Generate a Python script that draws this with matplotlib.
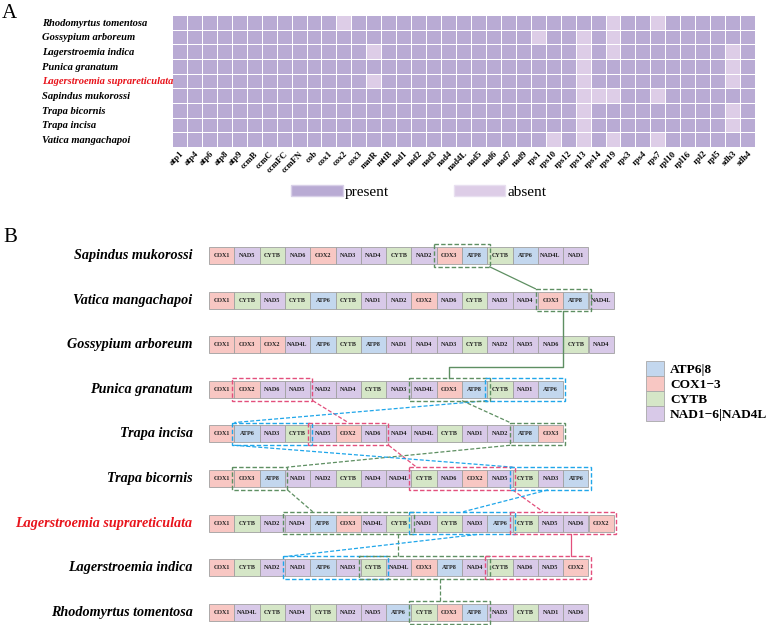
import matplotlib
matplotlib.use("Agg")
import matplotlib.pyplot as plt
import numpy as np
from matplotlib.colors import ListedColormap
from matplotlib.patches import Rectangle, Patch

plt.rcParams["font.family"] = ["Liberation Serif", "DejaVu Serif"]

PRESENT = "#B9ABD4"
ABSENT = "#DDCDE7"
HIGHLIGHT = "#E8141C"
HIGHLIGHT_NAME = "Lagerstroemia suprareticulata"

# ---- panel A: gene presence / absence ----
species_a = [
    "Rhodomyrtus tomentosa", "Gossypium arboreum", "Lagerstroemia indica",
    "Punica granatum", "Lagerstroemia suprareticulata", "Sapindus mukorossi",
    "Trapa bicornis", "Trapa incisa", "Vatica mangachapoi",
]
genes = [
    "atp1", "atp4", "atp6", "atp8", "atp9", "ccmB", "ccmC", "ccmFC", "ccmFN",
    "cob", "cox1", "cox2", "cox3", "matR", "mttB", "nad1", "nad2", "nad3",
    "nad4", "nad4L", "nad5", "nad6", "nad7", "nad9", "rps1", "rps10", "rps12",
    "rps13", "rps14", "rps19", "rps3", "rps4", "rps7", "rpl10", "rpl16",
    "rpl2", "rpl5", "sdh3", "sdh4",
]
absent_genes = [
    ["cox2", "rps19", "rps7"],
    ["rps1", "rps13", "rps19"],
    ["matR", "rps13", "rps19", "sdh3"],
    ["rps13", "sdh3"],
    ["matR", "rps13", "sdh3"],
    ["rps13", "rps14", "rps19", "rps7"],
    ["rps13", "sdh3"],
    ["rps13", "sdh3"],
    ["rps10", "rps13", "rps19", "rps7"],
]

# ---- panel B: gene order ----
species_b = [
    "Sapindus mukorossi", "Vatica mangachapoi", "Gossypium arboreum",
    "Punica granatum", "Trapa incisa", "Trapa bicornis",
    "Lagerstroemia suprareticulata", "Lagerstroemia indica",
    "Rhodomyrtus tomentosa",
]
gene_orders = [
    ["COX1", "NAD5", "CYTB", "NAD6", "COX2", "NAD3", "NAD4", "CYTB", "NAD2",
     "COX3", "ATP8", "CYTB", "ATP6", "NAD4L", "NAD1"],
    ["COX1", "CYTB", "NAD5", "CYTB", "ATP6", "CYTB", "NAD1", "NAD2", "COX2",
     "NAD6", "CYTB", "NAD3", "NAD4", "COX3", "ATP8", "NAD4L"],
    ["COX1", "COX3", "COX2", "NAD4L", "ATP6", "CYTB", "ATP8", "NAD1", "NAD4",
     "NAD3", "CYTB", "NAD2", "NAD5", "NAD6", "CYTB", "NAD4"],
    ["COX1", "COX2", "NAD6", "NAD5", "NAD2", "NAD4", "CYTB", "NAD3", "NAD4L",
     "COX3", "ATP8", "CYTB", "NAD1", "ATP6"],
    ["COX1", "ATP6", "NAD3", "CYTB", "NAD5", "COX2", "NAD6", "NAD4", "NAD4L",
     "CYTB", "NAD1", "NAD2", "ATP8", "COX3"],
    ["COX1", "COX3", "ATP8", "NAD1", "NAD2", "CYTB", "NAD4", "NAD4L", "CYTB",
     "NAD6", "COX2", "NAD5", "CYTB", "NAD3", "ATP6"],
    ["COX1", "CYTB", "NAD2", "NAD4", "ATP8", "COX3", "NAD4L", "CYTB", "NAD1",
     "CYTB", "NAD3", "ATP6", "CYTB", "NAD5", "NAD6", "COX2"],
    ["COX1", "CYTB", "NAD2", "NAD1", "ATP6", "NAD3", "CYTB", "NAD4L", "COX3",
     "ATP8", "NAD4", "CYTB", "NAD6", "NAD5", "COX2"],
    ["COX1", "NAD4L", "CYTB", "NAD4", "CYTB", "NAD2", "NAD5", "ATP6", "CYTB",
     "COX3", "ATP8", "NAD3", "CYTB", "NAD1", "NAD6"],
]
class_labels = ["ATP6|8", "COX1\u22123", "CYTB", "NAD1\u22126|NAD4L"]
class_colors = ["#C3D7EE", "#F8C7C3", "#D5E6C7", "#D8C9E8"]

# syntenic blocks: (row, first gene index, last gene index, colour key)
blocks = [
    (0, 9, 10, "g"), (1, 13, 14, "g"), (3, 8, 10, "g"), (3, 11, 13, "b"),
    (3, 1, 3, "p"), (4, 1, 3, "b"), (4, 4, 6, "p"), (4, 12, 13, "g"),
    (5, 1, 2, "g"), (5, 8, 11, "p"), (5, 12, 14, "b"), (6, 3, 7, "g"),
    (6, 8, 11, "b"), (6, 12, 15, "p"), (7, 3, 6, "b"), (7, 6, 10, "g"),
    (7, 11, 14, "p"), (8, 8, 10, "g"),
]
# links between blocks: (block from, gene pos from, block to, gene pos to, solid)
links = [
    (0, 11.1, 1, 12.9, True), (2, 10.0, 7, 11.9, False),
    (7, 11.9, 8, 3.1, False), (8, 3.1, 11, 4.1, False),
    (11, 7.47, 15, 7.47, False), (15, 9.13, 17, 9.13, False),
    (4, 4.1, 6, 5.5, False), (6, 7.1, 9, 8.2, False),
    (9, 12.0, 13, 13.2, False), (13, 14.3, 16, 14.3, True),
    (3, 11.0, 5, 1.0, False), (5, 1.0, 10, 12.0, False),
    (10, 13.4, 12, 10.05, False), (12, 10.6, 14, 3.1, False),
]
# elbow link from Vatica COX3-ATP8 to Punica NAD4L-ATP8 block
elbow = (1, 2)
link_colors = {"g": "#5E8F62", "b": "#1FA6EA", "p": "#E34F7C"}


def gene_class(name):
    for i, key in enumerate(("ATP", "COX", "CYTB", "NAD")):
        if name.startswith(key):
            return i
    return 3


fig = plt.figure(figsize=(7.71, 6.25), dpi=100)

# ---------------- panel A ----------------
mat = np.ones((len(species_a), len(genes)))
for i, gl in enumerate(absent_genes):
    for g in gl:
        mat[i, genes.index(g)] = 0

ax_a = fig.add_axes([172 / 771, 1 - 147 / 625, 583 / 771, 132 / 625])
ax_a.pcolormesh(mat, cmap=ListedColormap([ABSENT, PRESENT]), vmin=0, vmax=1,
                edgecolors="white", linewidth=0.7)
ax_a.set_xlim(0, len(genes))
ax_a.set_ylim(len(species_a), 0)
ax_a.set_xticks(np.arange(len(genes)) + 0.5)
ax_a.set_xticklabels(genes, rotation=45, ha="right", rotation_mode="anchor",
                     fontsize=6.3, fontweight="bold")
ax_a.set_yticks(np.arange(len(species_a)) + 0.5)
ax_a.set_yticklabels(species_a, ha="left", fontsize=7.6, fontweight="bold",
                     fontstyle="italic")
ax_a.tick_params(axis="y", length=0, pad=93.6)
ax_a.tick_params(axis="x", length=0, pad=2)
for lab in ax_a.get_yticklabels():
    if lab.get_text() == HIGHLIGHT_NAME:
        lab.set_color(HIGHLIGHT)
for s in ax_a.spines.values():
    s.set_visible(False)

fig.legend(handles=[Patch(facecolor=PRESENT, edgecolor="#D8D0E8"),
                    Patch(facecolor=ABSENT, edgecolor="#E8E0F0")],
           labels=["present", "absent"], ncol=2, loc="upper left",
           bbox_to_anchor=(291 / 771, 1 - 185 / 625), frameon=False,
           fontsize=11, handlelength=3.4, handleheight=0.75,
           handletextpad=0.15, columnspacing=4.2, borderpad=0,
           borderaxespad=0)

fig.text(0.002, 1 - 4 / 625, "A", fontsize=15, va="top", ha="left")
fig.text(0.004, 1 - 228 / 625, "B", fontsize=15, va="top", ha="left")

# ---------------- panel B ----------------
slot_px, row_px, x0_px, y0_px = 25.3, 44.6, 209, 255.5
ax_b = fig.add_axes([0, 0, 1, 400 / 625])
ax_b.set_xlim(-x0_px / slot_px, (771 - x0_px) / slot_px)
ax_b.set_ylim((625 - y0_px) / row_px, (225 - y0_px) / row_px)
ax_b.axis("off")

bh = 0.19
for i, (name, order) in enumerate(zip(species_b, gene_orders)):
    ax_b.text(-0.65, i, name, ha="right", va="center", fontsize=10.2,
              fontweight="bold", fontstyle="italic",
              color=HIGHLIGHT if name == HIGHLIGHT_NAME else "black")
    for k, g in enumerate(order):
        ax_b.add_patch(Rectangle((k, i - bh), 1, 2 * bh,
                                 facecolor=class_colors[gene_class(g)],
                                 edgecolor="#A0A0A0", linewidth=0.6))
        ax_b.text(k + 0.5, i, g, ha="center", va="center", fontsize=4.4,
                  fontweight="bold", color="#222222")

mh, mw = bh + 0.065, 0.09
dash = (0, (3.2, 1.6))
for row, a, b, c in blocks:
    ax_b.add_patch(Rectangle((a - mw, row - mh), b - a + 1 + 2 * mw, 2 * mh,
                             fill=False, edgecolor=link_colors[c],
                             linewidth=1.0, linestyle=dash, zorder=4))

for ga, xa, gb, xb, solid in links:
    ra, rb = blocks[ga][0], blocks[gb][0]
    ax_b.plot([xa, xb], [ra + mh, rb - mh], color=link_colors[blocks[ga][3]],
              linewidth=0.9, linestyle="-" if solid else dash, zorder=3)

ga, gb = elbow
ra, a1, b1, _ = blocks[ga]
rb, a2, b2, _ = blocks[gb]
xa, xb = (a1 + b1 + 1) / 2, (a2 + b2 + 1) / 2
ymid = rb - 0.5
ax_b.plot([xa, xa, xb, xb], [ra + mh, ymid, ymid, rb - mh],
          color=link_colors["g"], linewidth=1.0, zorder=3)

fig.legend(handles=[Patch(facecolor=c, edgecolor="#A8A8A8", linewidth=0.6)
                    for c in class_colors],
           labels=class_labels, loc="upper left",
           bbox_to_anchor=(646 / 771, 1 - 361 / 625), frameon=False,
           prop={"size": 9.6, "weight": "bold"}, handlelength=1.35,
           handleheight=1.35, labelspacing=0.0, handletextpad=0.45,
           borderpad=0, borderaxespad=0)

fig.savefig("out.png", dpi=100)
